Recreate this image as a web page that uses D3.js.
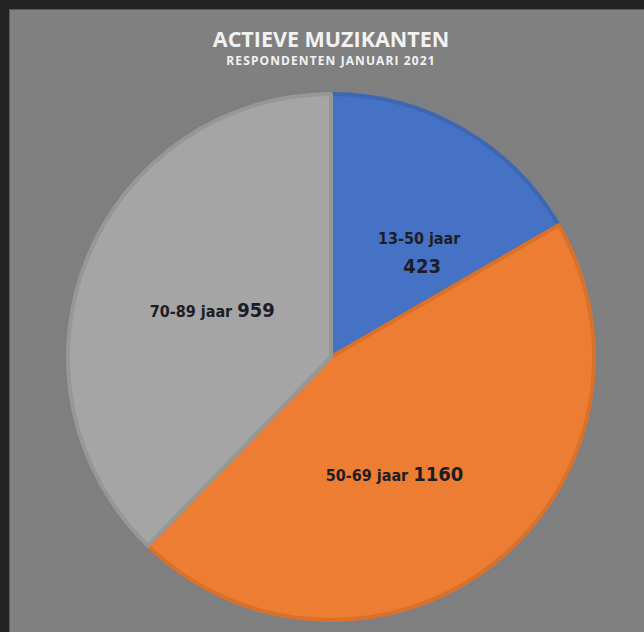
<!DOCTYPE html>
<html>
  <head>
    <meta charset="utf-8" />
    <title>Actieve muzikanten</title>
    <script src="https://d3js.org/d3.v7.min.js"></script>
    <style>
      body {
        margin: 0;
        background: #232323;
      }
      svg {
        display: block;
      }
      .title {
        font-family: "Open Sans", Lato, sans-serif;
        font-weight: bold;
        fill: #f2f2f2;
      }
      .lbl {
        font-family: "DejaVu Sans Condensed", "DejaVu Sans", sans-serif;
        font-weight: bold;
        fill: #1d1d26;
      }
    </style>
  </head>
  <body>
    <div id="chart-container"></div>
    <script>
      // data
      const categories = ["13-50 jaar", "50-69 jaar", "70-89 jaar"];
      const values = [423, 1160, 959];
      const colors = ["#4472c4", "#ed7d31", "#a5a5a5"];
      const edgeColors = ["#3d66b3", "#d8712b", "#979797"];

      const width = 644;
      const height = 632;
      const cx = 331;
      const cy = 357;
      const radius = 265;

      // small nudges so labels sit where Excel's "best fit" put them
      const labelNudge = [
        [22, 12],
        [-18, 20],
        [4, 10],
      ];

      const svg = d3
        .select("#chart-container")
        .append("svg")
        .attr("width", width)
        .attr("height", height);

      // panel
      svg
        .append("rect")
        .attr("x", 9.5)
        .attr("y", 9.5)
        .attr("width", width)
        .attr("height", height)
        .attr("fill", "#808080")
        .attr("stroke", "#595959")
        .attr("stroke-width", 1);

      const defs = svg.append("defs");
      const shadow = defs
        .append("filter")
        .attr("id", "glow")
        .attr("x", "-10%")
        .attr("y", "-10%")
        .attr("width", "120%")
        .attr("height", "120%");
      shadow
        .append("feGaussianBlur")
        .attr("in", "SourceAlpha")
        .attr("stdDeviation", 3)
        .attr("result", "b");
      shadow
        .append("feFlood")
        .attr("flood-color", "#6f7a8c")
        .attr("flood-opacity", 0.7);
      shadow.append("feComposite").attr("in2", "b").attr("operator", "in");
      const merge = shadow.append("feMerge");
      merge.append("feMergeNode");
      merge.append("feMergeNode").attr("in", "SourceGraphic");

      // title
      svg
        .append("text")
        .attr("class", "title")
        .attr("x", cx)
        .attr("y", 47)
        .attr("text-anchor", "middle")
        .attr("font-size", "21.5px")
        .text("ACTIEVE MUZIKANTEN");
      svg
        .append("text")
        .attr("class", "title")
        .attr("x", cx)
        .attr("y", 65)
        .attr("text-anchor", "middle")
        .attr("font-size", "12px")
        .attr("letter-spacing", "1.1px")
        .text("RESPONDENTEN JANUARI 2021");

      const pie = d3
        .pie()
        .sort(null)
        .value((d) => d.value);
      const arcs = pie(categories.map((c, i) => ({ cat: c, value: values[i], i })));

      const arc = d3.arc().innerRadius(0).outerRadius(radius - 2);
      const labelArc = d3.arc().innerRadius(radius * 0.5).outerRadius(radius * 0.5);

      const g = svg.append("g").attr("transform", `translate(${cx},${cy})`);

      g.append("g")
        .attr("filter", "url(#glow)")
        .selectAll("path")
        .data(arcs)
        .join("path")
        .attr("d", arc)
        .attr("fill", (d) => colors[d.data.i])
        .attr("stroke", (d) => edgeColors[d.data.i])
        .attr("stroke-width", 4)
        .attr("stroke-linejoin", "round");

      // labels
      arcs.forEach((d) => {
        const [x, y] = labelArc.centroid(d);
        const [nx, ny] = labelNudge[d.data.i];
        const t = g
          .append("text")
          .attr("class", "lbl")
          .attr("text-anchor", "middle")
          .attr("x", x + nx)
          .attr("y", y + ny);
        if (d.data.i === 0) {
          // two lines
          t.attr("y", y + ny - 10);
          t.append("tspan").attr("font-size", "16px").text(d.data.cat);
          t.append("tspan")
            .attr("x", x + nx + 3)
            .attr("dy", 29)
            .attr("font-size", "20px")
            .text(d.data.value);
        } else {
          t.append("tspan").attr("font-size", "16px").text(d.data.cat + " ");
          t.append("tspan").attr("font-size", "20px").text(d.data.value);
        }
      });
    </script>
  </body>
</html>
